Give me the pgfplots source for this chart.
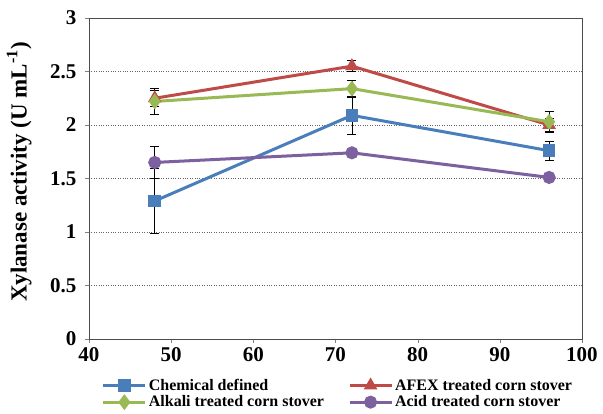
\documentclass[border=0pt]{standalone}
\usepackage{pgfplots}
\pgfplotsset{compat=1.18}
\usepackage{fontspec}
\setmainfont{Liberation Serif}
\definecolor{cblue}{HTML}{4A7EBB}
\definecolor{cred}{HTML}{BE4B48}
\definecolor{cgreen}{HTML}{98B954}
\definecolor{cpurple}{HTML}{7D60A0}
\begin{document}
\begin{tikzpicture}
\useasboundingbox (-89pt,-75pt) rectangle (514pt,339pt);
\begin{axis}[
  at={(0pt,0pt)}, anchor=south west,
  scale only axis, width=493pt, height=321pt,
  xmin=40, xmax=100, ymin=0, ymax=3,
  xtick={40,50,...,100}, ytick={0,0.5,...,3},
  yticklabels={0,0.5,1,1.5,2,2.5,3},
  tick align=outside, tick pos=left,
  major tick length=4pt,
  ymajorgrids, grid style={black!60, dotted, line width=0.8pt},
  axis line style={black!70, line width=0.8pt},
  /pgf/number format/assume math mode=true,
  tick label style={font=\fontsize{21}{22}\selectfont\bfseries},
  yticklabel style={xshift=-5pt},
  xticklabel style={yshift=-1pt},
  ylabel={\textbf{Xylanase activity (U mL\textsuperscript{-1})}},
  ylabel style={font=\fontsize{23}{24}\selectfont, at={(-54pt,0.52)}, anchor=south},
  legend columns=2,
  legend style={at={(0.505,-0.118)}, anchor=north, draw=none, font=\fontsize{16}{17}\selectfont\bfseries,
    /tikz/every even column/.append style={column sep=22pt}, row sep=0pt, inner sep=0pt},
  legend cell align=left,
  legend image code/.code={\draw[#1, mark repeat=2, mark phase=2] plot coordinates {(0pt,0pt) (21pt,0pt) (42pt,0pt)};},
  every axis plot/.append style={line width=3pt,
    error bars/y dir=both, error bars/y explicit,
    error bars/error bar style={black, line width=0.8pt, solid},
    error bars/error mark options={black, rotate=90, mark size=4.5pt, line width=0.8pt}},
]
\addplot[cblue, mark=square*, mark options={solid, fill=cblue, mark size=4.8pt}]
  coordinates {(48,1.29) +- (0,0.30) (72,2.09) +- (0,0.18) (96,1.76) +- (0,0.09)};
\addlegendentry{Chemical defined}
\addplot[cred, mark=triangle*, mark options={solid, fill=cred, mark size=5pt}]
  coordinates {(48,2.25) +- (0,0.075) (72,2.55) +- (0,0.05) (96,2.00) +- (0,0.06)};
\addlegendentry{AFEX treated corn stover}
\addplot[cgreen, mark=diamond*, mark options={solid, fill=cgreen, mark size=5.5pt}]
  coordinates {(48,2.22) +- (0,0.12) (72,2.34) +- (0,0.08) (96,2.03) +- (0,0.10)};
\addlegendentry{Alkali treated corn stover}
\addplot[cpurple, mark=*, mark options={solid, fill=cpurple, mark size=5pt}]
  coordinates {(48,1.65) +- (0,0.15) (72,1.74) +- (0,0.03) (96,1.51) +- (0,0.03)};
\addlegendentry{Acid treated corn stover}
\end{axis}
\end{tikzpicture}
\end{document}
